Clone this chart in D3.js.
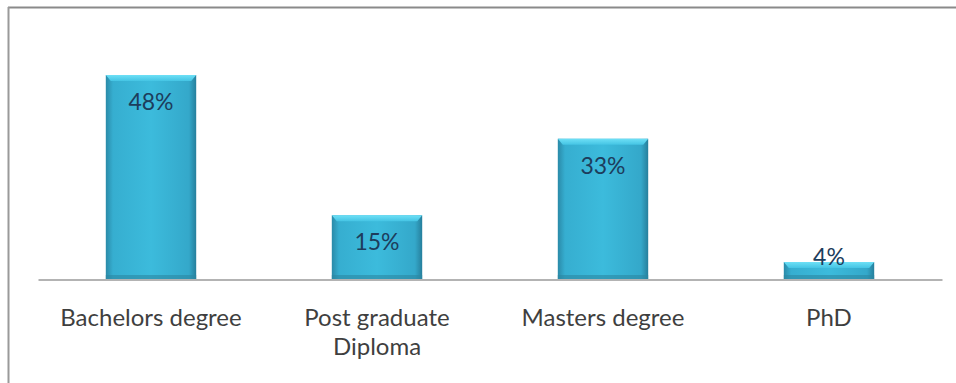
<!DOCTYPE html>
<html>
<head>
<meta charset="utf-8">
<script src="https://cdn.jsdelivr.net/npm/d3@7"></script>
<style>
  body { margin: 0; background: #fff; }
  svg { display: block; }
</style>
</head>
<body>
<div id="chart"></div>
<script>
(function() {

  var width = 956;
  var height = 383;
  var margin = ({top: 60, right: 14, bottom: 104, left: 38});

  // data
  var categories = ['Bachelors degree', 'Post graduate Diploma', 'Masters degree', 'PhD'];
  var values = [48, 15, 33, 4];
  var labelLines = [['Bachelors degree'], ['Post graduate', 'Diploma'], ['Masters degree'], ['PhD']];

  var data = categories.map((c, i) => ({name: c, value: values[i], lines: labelLines[i]}));

  var x = d3.scaleBand()
    .domain(categories)
    .range([margin.left, width - margin.right])
    .paddingInner(0.6)
    .paddingOuter(0.3);

  var y = d3.scaleLinear()
    .domain([0, 50])
    .range([height - margin.bottom, height - margin.bottom - 50 * 4.25]);

  var svg = d3.select('#chart').append('svg')
    .attr('width', width)
    .attr('height', height);

  var defs = svg.append('defs');
  var grad = defs.append('linearGradient').attr('id', 'barFill')
    .attr('x1', 0).attr('x2', 1).attr('y1', 0).attr('y2', 0);
  grad.append('stop').attr('offset', '0%').attr('stop-color', '#2a8aa8');
  grad.append('stop').attr('offset', '8%').attr('stop-color', '#36aed0');
  grad.append('stop').attr('offset', '50%').attr('stop-color', '#3cbbdc');
  grad.append('stop').attr('offset', '92%').attr('stop-color', '#34a8ca');
  grad.append('stop').attr('offset', '100%').attr('stop-color', '#267f9c');

  var topGrad = defs.append('linearGradient').attr('id', 'topFill')
    .attr('x1', 0).attr('x2', 0).attr('y1', 0).attr('y2', 1);
  topGrad.append('stop').attr('offset', '0%').attr('stop-color', '#6ee0f6');
  topGrad.append('stop').attr('offset', '100%').attr('stop-color', '#44c4e4');

  // frame (top and left edges only are visible)
  svg.append('line')
    .attr('x1', 8).attr('x2', width).attr('y1', 7.5).attr('y2', 7.5)
    .attr('stroke', '#8a8a8a').attr('stroke-width', 2);
  svg.append('line')
    .attr('x1', 8.5).attr('x2', 8.5).attr('y1', 7).attr('y2', height)
    .attr('stroke', '#9a9a9a').attr('stroke-width', 2);

  var bars = svg.append('g').selectAll('g')
    .data(data)
    .join('g');

  bars.append('rect')
    .attr('x', d => x(d.name))
    .attr('y', d => y(d.value))
    .attr('width', x.bandwidth())
    .attr('height', d => y(0) - y(d.value))
    .attr('fill', 'url(#barFill)');

  // bevelled top
  bars.append('path')
    .attr('d', d => {
      var x0 = x(d.name), x1 = x0 + x.bandwidth(), t = y(d.value);
      var b = Math.min(6, (y(0) - t) / 2);
      return `M${x0},${t}L${x1},${t}L${x1 - 5},${t + b}L${x0 + 5},${t + b}Z`;
    })
    .attr('fill', 'url(#topFill)');

  // bottom shade
  bars.append('rect')
    .attr('x', d => x(d.name))
    .attr('y', y(0) - 4)
    .attr('width', x.bandwidth())
    .attr('height', 4)
    .attr('fill', '#2b87a2')
    .attr('opacity', 0.6);

  // axis line
  svg.append('g')
    .attr('transform', `translate(0,${y(0) + 0.5})`)
    .call(d3.axisBottom(x).tickSize(0).tickFormat(''))
    .call(g => g.select('.domain').attr('stroke', '#9a9a9a').attr('stroke-width', 1.5));

  // value labels
  bars.append('text')
    .attr('x', d => x(d.name) + x.bandwidth() / 2)
    .attr('y', d => Math.min(y(d.value) + 35, y(0) - 14))
    .attr('text-anchor', 'middle')
    .attr('font-family', 'Lato, "Open Sans", sans-serif')
    .attr('font-size', 23)
    .attr('fill', '#1d3d5c')
    .text(d => d.value + '%');

  // category labels
  var cat = svg.append('g').selectAll('text')
    .data(data)
    .join('text')
    .attr('x', d => x(d.name) + x.bandwidth() / 2)
    .attr('y', y(0) + 47)
    .attr('text-anchor', 'middle')
    .attr('font-family', 'Lato, "Open Sans", sans-serif')
    .attr('font-size', 24)
    .attr('fill', '#3f3f3f');

  cat.selectAll('tspan')
    .data(d => d.lines)
    .join('tspan')
    .attr('x', function() { return d3.select(this.parentNode).attr('x'); })
    .attr('dy', (d, i) => i ? 29 : 0)
    .text(d => d);

})();
</script>
</body>
</html>
